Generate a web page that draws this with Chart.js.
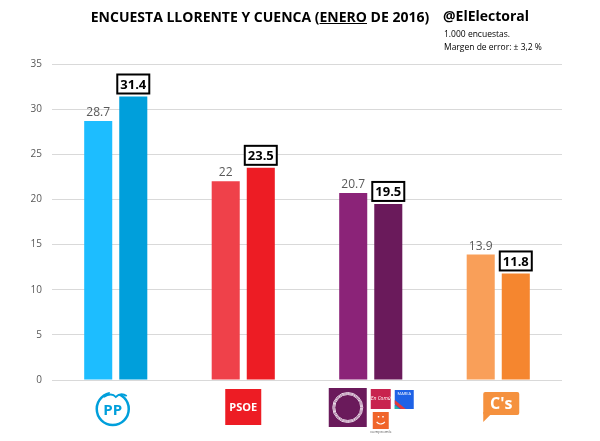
<!DOCTYPE html>
<html>
<head>
<meta charset="utf-8">
<script src="https://cdn.jsdelivr.net/npm/chart.js@4.4.0/dist/chart.umd.min.js"></script>
<style>
  body { margin: 0; background: #fff; }
  #wrap { position: relative; width: 600px; height: 441px; font-family: "Open Sans", "Noto Sans", sans-serif; }
  #title { position: absolute; left: 90px; top: 7px; width: 340px; text-align: center; font-weight: bold; font-size: 14px; color: #000; white-space: nowrap; }
  #brand { position: absolute; left: 443px; top: 6px; font-weight: bold; font-size: 14px; color: #000; }
  .note { position: absolute; left: 444px; font-size: 8.5px; color: #000; white-space: nowrap; }
  canvas { position: absolute; left: 0; top: 0; }
</style>
</head>
<body>
<div id="wrap">
  <canvas id="pollChart" width="600" height="441"></canvas>
  <div id="title">ENCUESTA LLORENTE Y CUENCA (<u>ENERO</u> DE 2016)</div>
  <div id="brand">@ElElectoral</div>
  <div class="note" style="top:28px">1.000 encuestas.</div>
  <div class="note" style="top:41px">Margen de error: ± 3,2 %</div>
</div>
<script>
const parties = ['PP', 'PSOE', 'Podemos', "C's"];
const previousValues = [28.7, 22, 20.7, 13.9];
const currentValues = [31.4, 23.5, 19.5, 11.8];
const yTicks = [0, 5, 10, 15, 20, 25, 30, 35];

const lightColors = ['#1DBDFF', '#EF414A', '#8B2378', '#F99F59'];
const darkColors = ['#009FDB', '#ED1C24', '#6A1A5B', '#F5862F'];

const barLabels = {
    id: 'barLabels',
    afterDatasetsDraw(chart) {
        const ctx = chart.ctx;
        ctx.save();
        ctx.textAlign = 'center';
        ctx.textBaseline = 'alphabetic';

        chart.getDatasetMeta(0).data.forEach((bar, i) => {
            ctx.font = '12px "Open Sans", sans-serif';
            ctx.fillStyle = '#595959';
            ctx.fillText(String(previousValues[i]), bar.x, bar.y - 5);
        });

        chart.getDatasetMeta(1).data.forEach((bar, i) => {
            const text = currentValues[i].toFixed(1);
            ctx.font = 'bold 13px "Open Sans", sans-serif';
            const w = ctx.measureText(text).width + 6;
            const h = 19;
            const top = bar.y - 3 - h;
            ctx.fillStyle = '#fff';
            ctx.fillRect(bar.x - w / 2, top, w, h);
            ctx.lineWidth = 2;
            ctx.strokeStyle = '#000';
            ctx.strokeRect(bar.x - w / 2, top, w, h);
            ctx.fillStyle = '#000';
            ctx.fillText(text, bar.x, top + 14.5);
        });
        ctx.restore();
    }
};

// party logos drawn under each group, in place of tick labels
const partyLogos = {
    id: 'partyLogos',
    afterDraw(chart) {
        const ctx = chart.ctx;
        const x = chart.scales.x;
        ctx.save();
        ctx.textAlign = 'center';
        ctx.textBaseline = 'middle';

        // PP
        let cx = x.getPixelForValue(0) - 3;
        ctx.strokeStyle = '#009FDB';
        ctx.lineWidth = 2.5;
        ctx.beginPath();
        ctx.arc(cx, 409, 16, 0, Math.PI * 2);
        ctx.stroke();
        ctx.fillStyle = '#fff';
        ctx.fillRect(cx - 3, 390, 14, 5);
        ctx.strokeStyle = '#009FDB';
        ctx.lineWidth = 1.8;
        ctx.beginPath();
        ctx.moveTo(cx - 9, 397);
        ctx.quadraticCurveTo(cx - 1, 392, cx + 3, 397);
        ctx.quadraticCurveTo(cx + 8, 392, cx + 14, 396);
        ctx.stroke();
        ctx.fillStyle = '#009FDB';
        ctx.font = 'bold 15px "Open Sans", sans-serif';
        ctx.fillText('PP', cx, 411);

        // PSOE
        cx = x.getPixelForValue(1);
        ctx.fillStyle = '#ED1C24';
        ctx.fillRect(cx - 18, 389, 36, 36);
        ctx.fillStyle = '#fff';
        ctx.font = 'bold 11px "Open Sans", sans-serif';
        ctx.fillText('PSOE', cx, 408);

        // Podemos and allies
        cx = x.getPixelForValue(2);
        ctx.fillStyle = '#6A1A5B';
        ctx.fillRect(cx - 42, 388, 38, 39);
        ctx.strokeStyle = '#e8d8e6';
        ctx.lineWidth = 1;
        [15, 14, 13].forEach(r => {
            ctx.beginPath();
            ctx.arc(cx - 23, 407.5, r, 0, Math.PI * 2);
            ctx.stroke();
        });
        ctx.fillStyle = '#C8234E';
        ctx.fillRect(cx, 389, 20, 20);
        ctx.fillStyle = '#fff';
        ctx.font = 'italic 5px "Open Sans", sans-serif';
        ctx.fillText('En Comú', cx + 10, 399);
        ctx.fillStyle = '#1E62E6';
        ctx.fillRect(cx + 24, 390, 19, 19);
        ctx.fillStyle = '#E23A3A';
        ctx.beginPath();
        ctx.moveTo(cx + 24, 400);
        ctx.lineTo(cx + 35, 409);
        ctx.lineTo(cx + 30, 409);
        ctx.lineTo(cx + 24, 404);
        ctx.closePath();
        ctx.fill();
        ctx.fillStyle = '#2BB3A0';
        ctx.beginPath();
        ctx.moveTo(cx + 24, 405);
        ctx.lineTo(cx + 29, 409);
        ctx.lineTo(cx + 24, 409);
        ctx.closePath();
        ctx.fill();
        ctx.fillStyle = '#fff';
        ctx.font = '4px "Open Sans", sans-serif';
        ctx.fillText('MAREA', cx + 33.5, 394);
        ctx.fillStyle = '#F0652A';
        ctx.fillRect(cx + 2, 412, 16, 17);
        ctx.strokeStyle = '#fff';
        ctx.lineWidth = 1.2;
        ctx.beginPath();
        ctx.arc(cx + 10, 419, 5, 0.2 * Math.PI, 0.8 * Math.PI);
        ctx.stroke();
        ctx.fillStyle = '#fff';
        ctx.fillRect(cx + 7, 416, 1.5, 1.5);
        ctx.fillRect(cx + 11.5, 416, 1.5, 1.5);
        ctx.fillStyle = '#555';
        ctx.font = '4px "Open Sans", sans-serif';
        ctx.fillText('compromís', cx + 10, 432);

        // Ciudadanos
        cx = x.getPixelForValue(3);
        ctx.fillStyle = '#F5913E';
        ctx.beginPath();
        ctx.roundRect(cx - 15, 392, 36, 23, 2);
        ctx.fill();
        ctx.beginPath();
        ctx.moveTo(cx - 15, 412);
        ctx.lineTo(cx - 15, 422);
        ctx.lineTo(cx - 7, 414);
        ctx.closePath();
        ctx.fill();
        ctx.fillStyle = '#fff';
        ctx.font = 'bold 16px "Open Sans", sans-serif';
        ctx.fillText("C's", cx + 3, 404);

        ctx.restore();
    }
};

const canvas = document.getElementById('pollChart');
new Chart(canvas.getContext('2d'), {
    type: 'bar',
    data: {
        labels: parties,
        datasets: [{
            label: 'Anterior',
            data: previousValues,
            backgroundColor: lightColors,
            borderWidth: 0
        }, {
            label: 'Enero 2016',
            data: currentValues,
            backgroundColor: darkColors,
            borderWidth: 0
        }]
    },
    options: {
        responsive: false,
        animation: false,
        devicePixelRatio: 1,
        categoryPercentage: 0.55,
        barPercentage: 0.8,
        layout: {
            padding: { left: 0, right: 38, top: 64, bottom: 61 }
        },
        scales: {
            x: {
                display: false
            },
            y: {
                min: 0,
                max: 35,
                afterBuildTicks: scale => {
                    scale.ticks = yTicks.map(v => ({ value: v }));
                },
                afterFit: scale => {
                    scale.width = 52;
                },
                ticks: {
                    color: '#595959',
                    padding: 10,
                    font: { family: '"Open Sans", sans-serif', size: 10 }
                },
                grid: {
                    color: '#d9d9d9',
                    drawTicks: false
                },
                border: { display: false }
            }
        },
        plugins: {
            legend: { display: false },
            tooltip: { enabled: false }
        }
    },
    plugins: [barLabels, partyLogos]
});
</script>
</body>
</html>
